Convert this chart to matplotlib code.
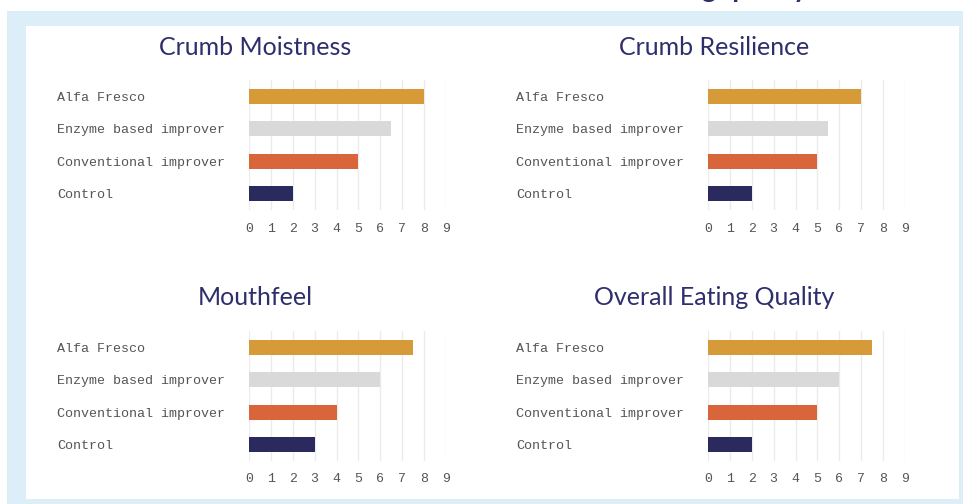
from __future__ import annotations

import matplotlib

matplotlib.use("Agg")
import matplotlib.pyplot as plt
from matplotlib.patches import Rectangle

# data
products = ["Alfa Fresco", "Enzyme based improver", "Conventional improver", "Control"]
bar_colors = ["#D69A38", "#D9D9D9", "#D9663A", "#2B2A5E"]
titles = ["Crumb Moistness", "Crumb Resilience", "Mouthfeel", "Overall Eating Quality"]
crumb_moistness = [8, 6.5, 5, 2]
crumb_resilience = [7, 5.5, 5, 2]
mouthfeel = [7.5, 6, 4, 3]
overall_eating = [7.5, 6, 5, 2]
x_ticks = list(range(10))

W, H = 963, 504
NAVY = "#2F2E6C"
LABEL_GRAY = "#555555"
MONO = ["Liberation Mono", "DejaVu Sans Mono"]
TITLE_FONT = ["Lato", "DejaVu Sans"]


def px_box(x0, y0, x1, y1):
    # pixel box (top-left origin) -> figure fraction rect
    return [x0 / W, 1 - y1 / H, (x1 - x0) / W, (y1 - y0) / H]


fig = plt.figure(figsize=(W / 100, H / 100), dpi=100)
fig.patch.set_facecolor("white")

# light blue frame and white panel
fig.patches.append(Rectangle((7 / W, 0), (W - 7) / W, (H - 11) / H,
                             transform=fig.transFigure, facecolor="#DCEEF7",
                             edgecolor="none", zorder=-2))
fig.patches.append(Rectangle((26 / W, 5 / H), (959 - 26) / W, (499 - 26) / H,
                             transform=fig.transFigure, facecolor="white",
                             edgecolor="none", zorder=-1))

# heading cut off at the top of the picture (only descenders show)
fig.text(808 / W, 1 + 3.0 / H, "Alfa Fresco enhances bread eating quality", ha="right",
         va="baseline", fontsize=20, fontweight="bold", color=NAVY, family=TITLE_FONT)

panels = [
    (crumb_moistness, 249, 80, 255, 54.5),
    (crumb_resilience, 708, 80, 714, 54.5),
    (mouthfeel, 249, 331, 255, 305),
    (overall_eating, 708, 331, 714, 305),
]

for (values, x0, y0, title_x, title_y), title in zip(panels, titles):
    ax = fig.add_axes(px_box(x0, y0, x0 + 197, y0 + 130))
    ypos = list(range(len(products)))
    ax.barh(ypos, values, height=0.46, color=bar_colors, zorder=3)
    ax.set_xlim(0, 9)
    ax.set_ylim(len(products) - 0.5, -0.5)
    ax.set_xticks(x_ticks)
    ax.set_xticklabels([str(t) for t in x_ticks], family=MONO, fontsize=9.5, color=LABEL_GRAY)
    ax.set_yticks(ypos)
    ax.set_yticklabels(products, family=MONO, fontsize=9.6, color=LABEL_GRAY, ha="left")
    ax.tick_params(axis="y", length=0, pad=138)
    ax.tick_params(axis="x", length=0, pad=9)
    ax.grid(axis="x", color="#EBEBEB", linewidth=1.0, zorder=0)
    for side in ax.spines.values():
        side.set_visible(False)
    ax.set_facecolor("none")
    fig.text(title_x / W, 1 - title_y / H, title, ha="center", va="baseline",
             fontsize=18, color=NAVY, family=TITLE_FONT)

fig.savefig("out.png", dpi=100)
plt.close(fig)
